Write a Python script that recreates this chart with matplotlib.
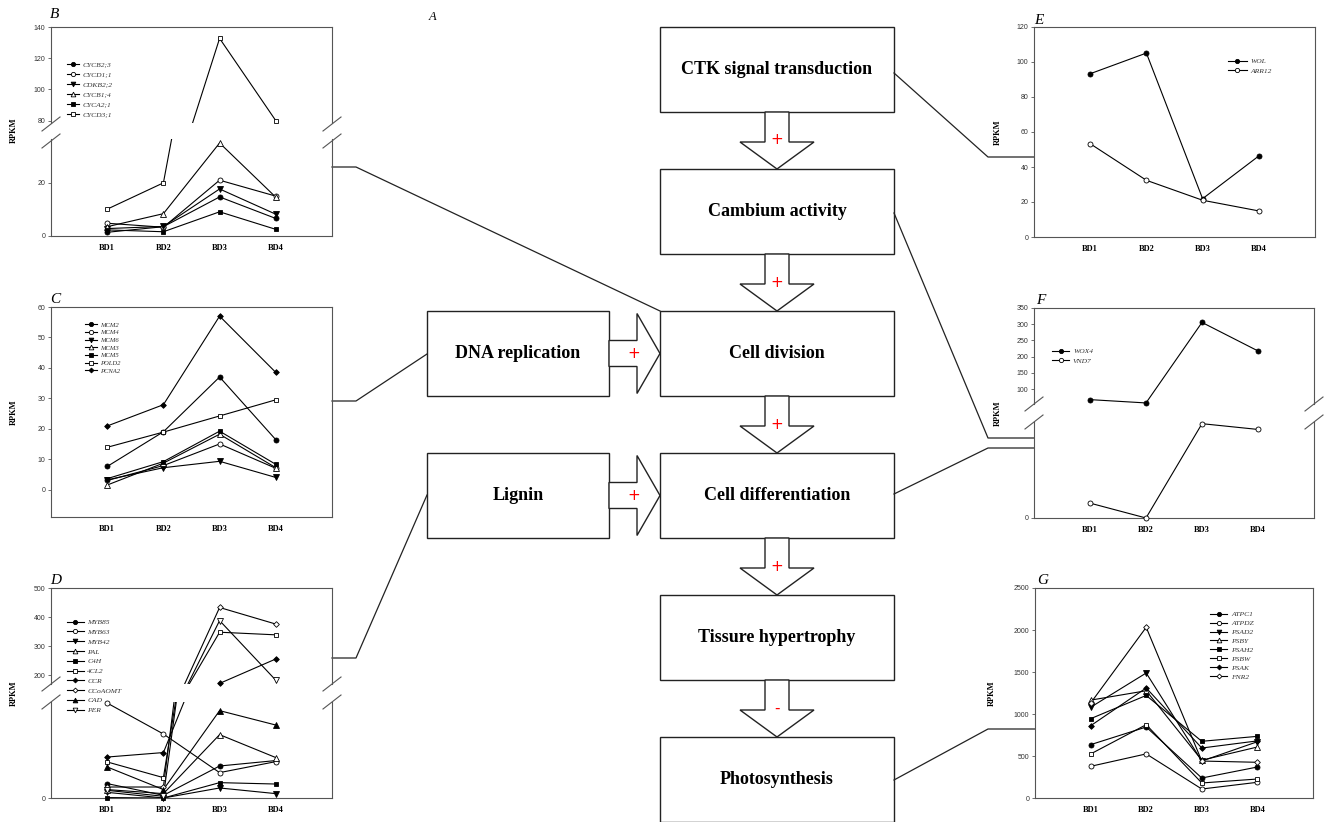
import matplotlib.pyplot as plt
from matplotlib.patches import Polygon, Rectangle
from matplotlib.lines import Line2D

W, H = 1324, 822

stages = ['BD1', 'BD2', 'BD3', 'BD4']

# B - cell cycle
b_genes = ['CYCB2;3', 'CYCD1;1', 'CDKB2;2', 'CYCB1;4', 'CYCA2;1', 'CYCD3;1']
b_cycb23 = [1.4, 3.5, 14.7, 6.6]
b_cycd11 = [4.8, 3.3, 21.0, 15.0]
b_cdkb22 = [2.8, 3.6, 17.7, 8.2]
b_cycb14 = [3.5, 8.4, 35.0, 14.6]
b_cyca21 = [2.3, 1.6, 9.1, 2.5]
b_cycd31 = [10.1, 20.0, 132.7, 80.0]

# C - DNA replication
c_genes = ['MCM2', 'MCM4', 'MCM6', 'MCM3', 'MCM5', 'POLD2', 'PCNA2']
c_mcm2 = [7.6, 19.0, 37.0, 16.4]
c_mcm4 = [3.0, 7.9, 15.0, 7.0]
c_mcm6 = [3.2, 7.2, 9.3, 4.0]
c_mcm3 = [1.5, 8.7, 18.2, 7.2]
c_mcm5 = [3.6, 9.2, 19.2, 8.3]
c_pold2 = [13.9, 18.9, 24.2, 29.5]
c_pcna2 = [20.9, 27.9, 57.0, 38.5]

# D - lignin
d_genes = ['MYB85', 'MYB63', 'MYB42', 'PAL', 'C4H', '4CL2', 'CCR', 'CCoAOMT', 'CAD', 'PER']
d_myb85 = [13.5, 2.5, 30.0, 35.1]
d_myb63 = [89.0, 60.0, 23.8, 34.1]
d_myb42 = [5.3, 0.0, 9.4, 4.1]
d_pal = [7.9, 4.1, 59.4, 37.9]
d_c4h = [0.4, 0.0, 14.4, 13.1]
d_4cl2 = [33.8, 19.1, 348, 339]
d_ccr = [38.4, 42.6, 172, 256]
d_ccoaomt = [10.3, 10.3, 433, 376]
d_cad = [29.1, 7.9, 81.9, 68.4]
d_per = [7.2, 1.6, 388, 183]

# E - CTK signal
e_genes = ['WOL', 'ARR12']
e_wol = [93.3, 105.1, 21.9, 46.3]
e_arr12 = [53.3, 32.4, 21.0, 14.9]

# F - cambium / differentiation
f_genes = ['WOX4', 'VND7']
f_wox4 = [68.0, 57.8, 305.6, 217.8]
f_vnd7 = [6.2, 0.0, 39.3, 36.9]

# G - photosynthesis
g_genes = ['ATPC1', 'ATPDZ', 'PSAD2', 'PSBY', 'PSAH2', 'PSBW', 'PSAK', 'FNR2']
g_atpc1 = [635, 845, 238, 369]
g_atpdz = [377, 525, 107, 187]
g_psad2 = [1080, 1488, 440, 670]
g_psby = [1165, 1277, 450, 607]
g_psah2 = [944, 1221, 675, 734]
g_psbw = [524, 873, 179, 226]
g_psak = [860, 1310, 595, 680]
g_fnr2 = [1130, 2032, 440, 425]

# flow chart
main_boxes = ['CTK signal transduction', 'Cambium activity', 'Cell division',
              'Cell differentiation', 'Tissure hypertrophy', 'Photosynthesis']
main_signs = ['+', '+', '+', '+', '-']
side_boxes = ['DNA replication', 'Lignin']
side_signs = ['+', '+']

# marker styles
FC, OC = ('o', 'k'), ('o', 'w')
FDT, ODT = ('v', 'k'), ('v', 'w')
FUT, OUT = ('^', 'k'), ('^', 'w')
FS, OS = ('s', 'k'), ('s', 'w')
FD, OD = ('D', 'k'), ('D', 'w')
MS = {'o': 3.6, 'v': 4.0, '^': 4.0, 's': 3.3, 'D': 2.9}

SPINE = '#555555'
serif = 'Liberation Serif'
sans = 'Liberation Sans'

fig = plt.figure(figsize=(W / 100, H / 100), dpi=100)
ov = fig.add_axes([0, 0, 1, 1])
ov.set_xlim(0, W)
ov.set_ylim(H, 0)
ov.axis('off')


def px_axes(x0, y0, x1, y1):
    ax = fig.add_axes([x0 / W, 1 - y1 / H, (x1 - x0) / W, (y1 - y0) / H])
    ax.set_facecolor('none')
    return ax


def style_ax(ax, ylim, yticks, top=True, bottom=True):
    ax.set_xlim(0, 5)
    ax.set_ylim(*ylim)
    ax.set_yticks(yticks)
    ax.set_yticklabels([str(t) for t in yticks], fontfamily=sans, fontsize=5, color='#333')
    ax.tick_params(axis='y', length=2.5, width=0.6, pad=1.5, color=SPINE)
    for s in ax.spines.values():
        s.set_linewidth(0.8)
        s.set_color(SPINE)
    ax.spines['top'].set_visible(top)
    ax.spines['bottom'].set_visible(bottom)
    if bottom:
        ax.set_xticks([1, 2, 3, 4])
        ax.set_xticklabels(stages, fontfamily=serif, fontweight='bold', fontsize=6)
        ax.tick_params(axis='x', length=0, pad=6)
    else:
        ax.set_xticks([])


def plot_series(axes, series, markers):
    handles = []
    x = [1, 2, 3, 4]
    for vals, (m, fc) in zip(series, markers):
        for ax in axes:
            ax.plot(x, vals, color='k', lw=0.8)
            lo, hi = ax.get_ylim()
            px = [xi for xi, v in zip(x, vals) if lo - 1e-9 <= v <= hi]
            py = [v for v in vals if lo - 1e-9 <= v <= hi]
            ax.plot(px, py, ls='none', marker=m, mfc=fc, mec='k', mew=0.6,
                    ms=MS[m], clip_on=False, zorder=3)
        handles.append(Line2D([], [], color='k', lw=0.8, marker=m, mfc=fc,
                              mec='k', mew=0.6, ms=MS[m] * 0.85))
    return handles


def add_legend(ax, handles, labels, x, y, hl, spacing, size=5.4):
    leg = ax.legend(handles, labels, loc='upper left', bbox_to_anchor=(x / W, 1 - y / H),
                    bbox_transform=fig.transFigure, frameon=False, borderpad=0,
                    borderaxespad=0, handlelength=hl, handletextpad=0.5,
                    labelspacing=spacing,
                    prop={'family': serif, 'style': 'italic', 'size': size})
    for t in leg.get_texts():
        t.set_color('#333')


def break_marks(xl, xr, y_up, y_low):
    for xx in (xl, xr):
        for yy in (y_up, y_low):
            ov.plot([xx - 9, xx + 9], [yy + 7, yy - 7], color=SPINE, lw=0.8)


def ylabel_px(x, y):
    ov.text(x, y, 'RPKM', rotation=90, ha='center', va='center',
            fontfamily=serif, fontweight='bold', fontsize=6)


def letter(x, y, s, size=11):
    ov.text(x, y, s, ha='left', va='center', fontfamily=serif,
            style='italic', fontsize=size)


# ---- panel B ----
bu = px_axes(51, 27, 332, 123)
bl = px_axes(51, 139, 332, 236)
style_ax(bu, (78.5, 140), [80, 100, 120, 140], top=True, bottom=False)
style_ax(bl, (0, 36.5), [0, 20], top=False, bottom=True)
h = plot_series([bu, bl], [b_cycb23, b_cycd11, b_cdkb22, b_cycb14, b_cyca21, b_cycd31],
                [FC, OC, FDT, OUT, FS, OS])
add_legend(bu, h, b_genes, 67, 61, 1.6, 0.5)
break_marks(51, 332, 124, 141)
ylabel_px(14, 130)
letter(50, 15, 'B')

# ---- panel C ----
c = px_axes(51, 307, 332, 517)
style_ax(c, (-9, 60), [0, 10, 20, 30, 40, 50, 60])
h = plot_series([c], [c_mcm2, c_mcm4, c_mcm6, c_mcm3, c_mcm5, c_pold2, c_pcna2],
                [FC, OC, FDT, OUT, FS, OS, FD])
add_legend(c, h, c_genes, 85, 322, 1.8, 0.3, size=4.8)
ylabel_px(14, 412)
letter(50, 299, 'C')

# ---- panel D ----
du = px_axes(51, 588, 332, 684)
dl = px_axes(51, 702, 332, 798)
style_ax(du, (170, 500), [200, 300, 400, 500], top=True, bottom=False)
style_ax(dl, (0, 90), [0], top=False, bottom=True)
h = plot_series([du, dl], [d_myb85, d_myb63, d_myb42, d_pal, d_c4h, d_4cl2, d_ccr,
                           d_ccoaomt, d_cad, d_per],
                [FC, OC, FDT, OUT, FS, OS, FD, OD, FUT, ODT])
add_legend(du, h, d_genes, 67, 619, 2.2, 0.47)
break_marks(51, 332, 684, 702)
ylabel_px(14, 693)
letter(50, 580, 'D')

# ---- panel E ----
e = px_axes(1034, 27, 1315, 237)
style_ax(e, (0, 120), [0, 20, 40, 60, 80, 100, 120])
h = plot_series([e], [e_wol, e_arr12], [FC, OC])
add_legend(e, h, e_genes, 1228, 58, 2.5, 0.42)
ylabel_px(998, 132)
letter(1034, 20, 'E')

# ---- panel F ----
fu = px_axes(1034, 308, 1314, 404.5)
fl = px_axes(1034, 422, 1314, 518)
style_ax(fu, (53, 350), [100, 150, 200, 250, 300, 350], top=True, bottom=False)
style_ax(fl, (0, 40), [0], top=False, bottom=True)
h = plot_series([fu, fl], [f_wox4, f_vnd7], [FC, OC])
add_legend(fu, h, f_genes, 1052, 348, 2.3, 0.42)
break_marks(1034, 1314, 404, 422)
ylabel_px(998, 413)
letter(1036, 300, 'F')

# ---- panel G ----
g = px_axes(1035, 588, 1313, 798)
style_ax(g, (0, 2500), [0, 500, 1000, 1500, 2000, 2500])
h = plot_series([g], [g_atpc1, g_atpdz, g_psad2, g_psby, g_psah2, g_psbw, g_psak, g_fnr2],
                [FC, OC, FDT, OUT, FS, OS, FD, OD])
add_legend(g, h, g_genes, 1210, 611, 2.3, 0.36)
ylabel_px(992, 693)
letter(1037, 580, 'G')

# ---- flow chart ----
mx0, mx1, bh = 660, 894, 85
tops = [27, 169, 311, 453, 595, 737]
cx = (mx0 + mx1) / 2
for name, t in zip(main_boxes, tops):
    ov.add_patch(Rectangle((mx0, t), mx1 - mx0, bh, fc='white', ec='#222', lw=1.0))
    ov.text(cx, t + bh / 2, name, ha='center', va='center', fontfamily=serif,
            fontweight='bold', fontsize=13)

for i, sign in enumerate(main_signs):
    y0 = tops[i] + bh
    y1 = tops[i + 1]
    ym = y0 + 30
    pts = [(cx - 12, y0), (cx + 12, y0), (cx + 12, ym), (cx + 37, ym), (cx, y1),
           (cx - 37, ym), (cx - 12, ym)]
    ov.add_patch(Polygon(pts, closed=True, fc='white', ec='#222', lw=1.0))
    ov.text(cx, y0 + 28, sign, ha='center', va='center', color='red',
            fontfamily='DejaVu Sans', fontsize=11)

sx0, sx1 = 427, 609
for name, sign, t in zip(side_boxes, side_signs, [tops[2], tops[3]]):
    ov.add_patch(Rectangle((sx0, t), sx1 - sx0, bh, fc='white', ec='#222', lw=1.0))
    cy = t + bh / 2
    ov.text((sx0 + sx1) / 2, cy, name, ha='center', va='center', fontfamily=serif,
            fontweight='bold', fontsize=13)
    xm = sx1 + 28
    pts = [(sx1, cy - 13), (xm, cy - 13), (xm, cy - 40), (mx0, cy), (xm, cy + 40),
           (xm, cy + 13), (sx1, cy + 13)]
    ov.add_patch(Polygon(pts, closed=True, fc='white', ec='#222', lw=1.0))
    ov.text(xm - 3, cy, sign, ha='center', va='center', color='red',
            fontfamily='DejaVu Sans', fontsize=11)

ov.text(433, 17, 'A', ha='center', va='center', fontfamily=serif, style='italic', fontsize=9)

# connectors
conn = [
    [(332, 167), (356, 167), (660, 311)],
    [(332, 401), (356, 401), (427, 354)],
    [(332, 658), (356, 658), (427, 495)],
    [(894, 73), (988, 157), (1034, 157)],
    [(894, 213), (988, 438), (1034, 438)],
    [(894, 494), (988, 448), (1034, 448)],
    [(894, 780), (988, 729), (1035, 729)],
]
for pts in conn:
    ov.plot([p[0] for p in pts], [p[1] for p in pts], color='#222', lw=0.9)

fig.savefig('out.png', dpi=100)
